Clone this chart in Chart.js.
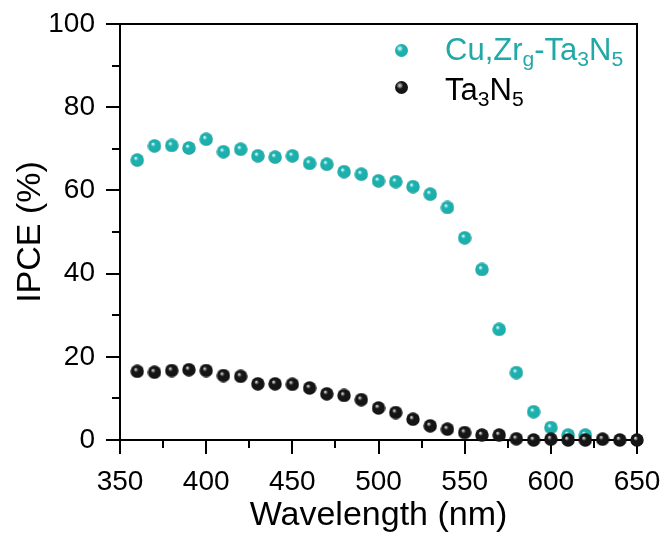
<!DOCTYPE html>
<html>
<head>
<meta charset="utf-8">
<script src="https://cdn.jsdelivr.net/npm/chart.js@4.4.1/dist/chart.umd.min.js"></script>
<style>
  body { margin: 0; background: #fff; }
  #wrap { position: relative; width: 665px; height: 533px; font-family: "Liberation Sans", Arial, sans-serif; }
  .leg { position: absolute; left: 445px; font-size: 31px; line-height: 36px; white-space: nowrap; }
  .leg sub { font-size: 0.68em; vertical-align: -0.28em; line-height: 0; }
  .ball { position: absolute; width: 13px; height: 13px; border-radius: 50%; }
</style>
</head>
<body>
<div id="wrap">
  <canvas id="chart" width="665" height="533"></canvas>
</div>
<script>
// wavelength (nm)
const wavelengthCuZr = [360, 370, 380, 390, 400, 410, 420, 430, 440, 450, 460, 470, 480, 490, 500,
  510, 520, 530, 540, 550, 560, 570, 580, 590, 600, 610, 620];
const ipceCuZr = [67.3, 70.7, 70.8, 70.2, 72.3, 69.3, 69.9, 68.3, 68.0, 68.3, 66.5, 66.3, 64.5, 63.9, 62.3,
  62.1, 60.9, 59.1, 55.9, 48.6, 41.0, 26.6, 16.2, 6.8, 3.0, 1.2, 1.2];

const wavelengthTa3N5 = [360, 370, 380, 390, 400, 410, 420, 430, 440, 450, 460, 470, 480, 490, 500,
  510, 520, 530, 540, 550, 560, 570, 580, 590, 600, 610, 620, 630, 640, 650];
const ipceTa3N5 = [16.5, 16.3, 16.7, 16.9, 16.7, 15.5, 15.3, 13.5, 13.5, 13.4, 12.5, 11.1, 10.7, 9.7, 7.7,
  6.6, 5.0, 3.4, 2.6, 1.8, 1.2, 1.2, 0.3, 0.0, 0.2, 0.0, 0.0, 0.2, 0.0, 0.0];

const seriesNames = ["Cu,Zr<sub>g</sub>-Ta<sub>3</sub>N<sub>5</sub>", "Ta<sub>3</sub>N<sub>5</sub>"];
const seriesColors = ["#1cb0ad", "#111111"];
const legendText = ["#22a9a7", "#000000"];

const xTicks = [350, 400, 450, 500, 550, 600, 650];
const yTicks = [0, 20, 40, 60, 80, 100];

// shaded sphere used as point marker
function makeBall(base, rim, shine, size) {
  const c = document.createElement("canvas");
  c.width = size; c.height = size;
  const g = c.getContext("2d");
  const r = size / 2;
  const grad = g.createRadialGradient(r * 0.75, r * 0.7, r * 0.05, r, r, r);
  grad.addColorStop(0, shine);
  grad.addColorStop(0.3, base);
  grad.addColorStop(0.85, base);
  grad.addColorStop(1, rim);
  g.fillStyle = grad;
  g.beginPath();
  g.arc(r, r, r - 0.3, 0, Math.PI * 2);
  g.fill();
  return c;
}
function ballCss(base, rim, shine) {
  return `radial-gradient(circle at 37% 35%, ${shine} 0%, ${base} 30%, ${base} 80%, ${rim} 100%)`;
}

const cyanBall = makeBall("#1cb0ad", "#0c7f7d", "#e6ffff", 14);
const blackBall = makeBall("#151515", "#000000", "#dddddd", 14);

const toPoints = (xs, ys) => xs.map((x, i) => ({ x: x, y: ys[i] }));

const frameTicks = {
  id: "frameTicks",
  beforeDatasetsDraw(chart) {
    const { ctx, chartArea: a, scales: { x, y } } = chart;
    ctx.save();
    ctx.strokeStyle = "#000";
    ctx.lineWidth = 2;
    ctx.strokeRect(a.left, a.top, a.right - a.left, a.bottom - a.top);
    ctx.beginPath();
    x.ticks.forEach(t => {
      const px = Math.round(x.getPixelForValue(t.value));
      const len = xTicks.includes(t.value) ? 14 : 8;
      ctx.moveTo(px, a.bottom);
      ctx.lineTo(px, a.bottom + len);
    });
    y.ticks.forEach(t => {
      const py = Math.round(y.getPixelForValue(t.value));
      const len = yTicks.includes(t.value) ? 14 : 8;
      ctx.moveTo(a.left, py);
      ctx.lineTo(a.left - len, py);
    });
    ctx.stroke();
    ctx.restore();
  }
};

const font = "'Liberation Sans', Arial, sans-serif";

new Chart(document.getElementById("chart"), {
  type: "scatter",
  data: {
    datasets: [
      {
        label: "Ta3N5",
        data: toPoints(wavelengthTa3N5, ipceTa3N5),
        pointStyle: blackBall,
        backgroundColor: seriesColors[1],
        clip: false
      },
      {
        label: "Cu,Zrg-Ta3N5",
        data: toPoints(wavelengthCuZr, ipceCuZr),
        pointStyle: cyanBall,
        backgroundColor: seriesColors[0],
        clip: false
      }
    ]
  },
  options: {
    responsive: false,
    animation: false,
    events: [],
    layout: { padding: { top: 24, right: 28, left: 0, bottom: 0 } },
    plugins: { legend: { display: false }, tooltip: { enabled: false } },
    scales: {
      x: {
        type: "linear",
        min: 350,
        max: 650,
        grid: { display: false, drawTicks: false },
        border: { display: false },
        ticks: {
          stepSize: 25,
          padding: 25,
          color: "#000",
          font: { family: font, size: 28 },
          maxRotation: 0,
          autoSkip: false,
          callback: v => xTicks.includes(v) ? v : ""
        },
        title: {
          display: true,
          text: "Wavelength (nm)",
          color: "#000",
          font: { family: font, size: 34, lineHeight: 1 },
          padding: { top: 0, bottom: 0 }
        },
        afterFit: s => { s.height = 93; s.paddingLeft = 0; s.paddingRight = 0; }
      },
      y: {
        min: 0,
        max: 100,
        grid: { display: false, drawTicks: false },
        border: { display: false },
        ticks: {
          stepSize: 10,
          padding: 25,
          color: "#000",
          font: { family: font, size: 28 },
          autoSkip: false,
          callback: v => yTicks.includes(v) ? v : ""
        },
        title: {
          display: true,
          text: "IPCE (%)",
          color: "#000",
          font: { family: font, size: 34, lineHeight: 1 },
          padding: { top: 14, bottom: 0 }
        },
        afterFit: s => { s.width = 120; s.paddingTop = 0; s.paddingBottom = 0; }
      }
    }
  },
  plugins: [frameTicks]
});

// legend with subscripts
const wrap = document.getElementById("wrap");
const legendRows = [
  { top: 32, ballY: 50, base: "#1cb0ad", rim: "#0c7f7d", shine: "#e6ffff" },
  { top: 72, ballY: 87, base: "#151515", rim: "#000", shine: "#dddddd" }
];
legendRows.forEach((row, i) => {
  const ball = document.createElement("div");
  ball.className = "ball";
  ball.style.left = (401 - 6.5) + "px";
  ball.style.top = (row.ballY - 6.5) + "px";
  ball.style.background = ballCss(row.base, row.rim, row.shine);
  wrap.appendChild(ball);

  const txt = document.createElement("div");
  txt.className = "leg";
  txt.style.top = row.top + "px";
  txt.style.color = legendText[i];
  txt.innerHTML = seriesNames[i];
  wrap.appendChild(txt);
});
</script>
</body>
</html>
